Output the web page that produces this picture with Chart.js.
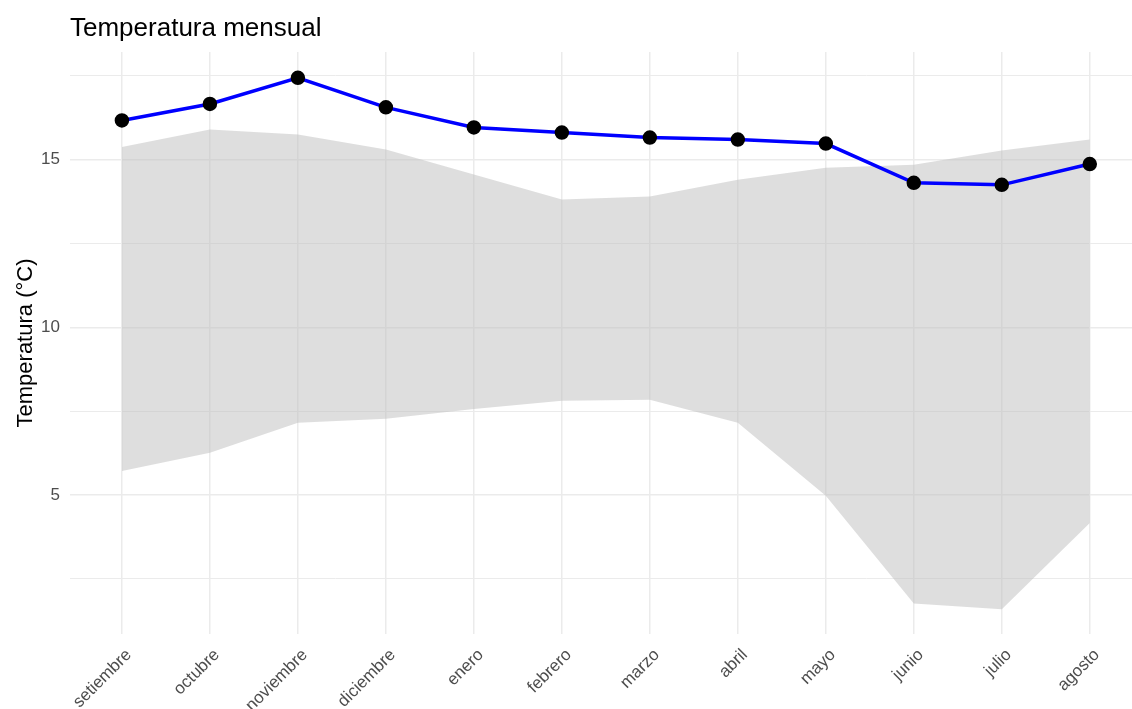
<!DOCTYPE html>
<html>
<head>
<meta charset="utf-8">
<script src="https://cdn.jsdelivr.net/npm/chart.js@4"></script>
<style>
  html, body { margin: 0; padding: 0; background: #fff; }
  #wrap { width: 1132px; height: 709px; }
</style>
</head>
<body>
<div id="wrap"><canvas id="chart" width="1132" height="709"></canvas></div>
<script>
var months = ["setiembre", "octubre", "noviembre", "diciembre", "enero", "febrero",
              "marzo", "abril", "mayo", "junio", "julio", "agosto"];
var tempMean = [16.17, 16.66, 17.44, 16.56, 15.96, 15.81, 15.66, 15.60, 15.48, 14.31, 14.25, 14.87];
var tempUpper = [15.38, 15.90, 15.75, 15.30, 14.56, 13.81, 13.90, 14.40, 14.76, 14.85, 15.27, 15.60];
var tempLower = [5.72, 6.26, 7.16, 7.28, 7.57, 7.81, 7.84, 7.16, 4.98, 1.77, 1.60, 4.17];
var yTicks = [5, 10, 15];

var font = "'Liberation Sans', Arial, sans-serif";

function pts(arr) {
    return arr.map(function(v, i) { return { x: i, y: v }; });
}

// title drawn at the left edge of the plot area, like ggplot
var titlePlugin = {
    id: "plotTitle",
    afterDraw: function(chart) {
        var ctx = chart.ctx;
        ctx.save();
        ctx.font = "26px " + font;
        ctx.fillStyle = "#000";
        ctx.textBaseline = "alphabetic";
        ctx.fillText("Temperatura mensual", chart.chartArea.left, 36);
        ctx.restore();
    }
};

var ctx = document.getElementById("chart").getContext("2d");
new Chart(ctx, {
    type: "line",
    data: {
        datasets: [
            {
                label: "media",
                data: pts(tempMean),
                borderColor: "#0000ff",
                borderWidth: 3.5,
                pointBackgroundColor: "#000",
                pointBorderColor: "#000",
                pointRadius: 5.5,
                fill: false,
                tension: 0,
                order: 0
            },
            {
                label: "max",
                data: pts(tempUpper),
                borderWidth: 0,
                pointRadius: 0,
                backgroundColor: "rgba(190,190,190,0.5)",
                fill: "+1",
                tension: 0,
                order: 1
            },
            {
                label: "min",
                data: pts(tempLower),
                borderWidth: 0,
                pointRadius: 0,
                fill: false,
                tension: 0,
                order: 2
            }
        ]
    },
    options: {
        responsive: false,
        animation: false,
        layout: { autoPadding: false, padding: { top: 52, right: 0, left: 0, bottom: 0 } },
        plugins: {
            legend: { display: false },
            tooltip: { enabled: false },
            title: { display: false }
        },
        scales: {
            x: {
                type: "linear",
                min: -0.59,
                max: 11.48,
                border: { display: false },
                grid: { color: "#ebebeb", lineWidth: 1.5, drawTicks: false },
                afterBuildTicks: function(scale) {
                    scale.ticks = months.map(function(m, i) { return { value: i }; });
                },
                afterFit: function(scale) {
                    scale.height = 75;
                    scale.paddingLeft = 0;
                    scale.paddingRight = 0;
                },
                ticks: {
                    autoSkip: false,
                    maxRotation: 45,
                    minRotation: 45,
                    padding: 11,
                    labelOffset: 7,
                    color: "#4d4d4d",
                    font: { family: font, size: 17 },
                    callback: function(v) { return months[v]; }
                }
            },
            y: {
                min: 0.86,
                max: 18.21,
                border: { display: false },
                grid: {
                    color: "#ebebeb",
                    drawTicks: false,
                    lineWidth: function(c) { return c.tick && c.tick.value % 5 === 0 ? 1.5 : 1; }
                },
                afterBuildTicks: function(scale) {
                    var t = [];
                    for (var v = 2.5; v <= 17.5; v += 2.5) t.push({ value: v });
                    scale.ticks = t;
                },
                afterFit: function(scale) {
                    scale.width = 70;
                    scale.paddingTop = 0;
                    scale.paddingBottom = 0;
                },
                ticks: {
                    padding: 10,
                    color: "#4d4d4d",
                    font: { family: font, size: 17 },
                    callback: function(v) { return yTicks.indexOf(v) >= 0 ? String(v) : ""; }
                },
                title: {
                    display: true,
                    text: "Temperatura (°C)",
                    color: "#000",
                    font: { family: font, size: 22 },
                    padding: { top: 13, bottom: 0 }
                }
            }
        }
    },
    plugins: [titlePlugin]
});
</script>
</body>
</html>
